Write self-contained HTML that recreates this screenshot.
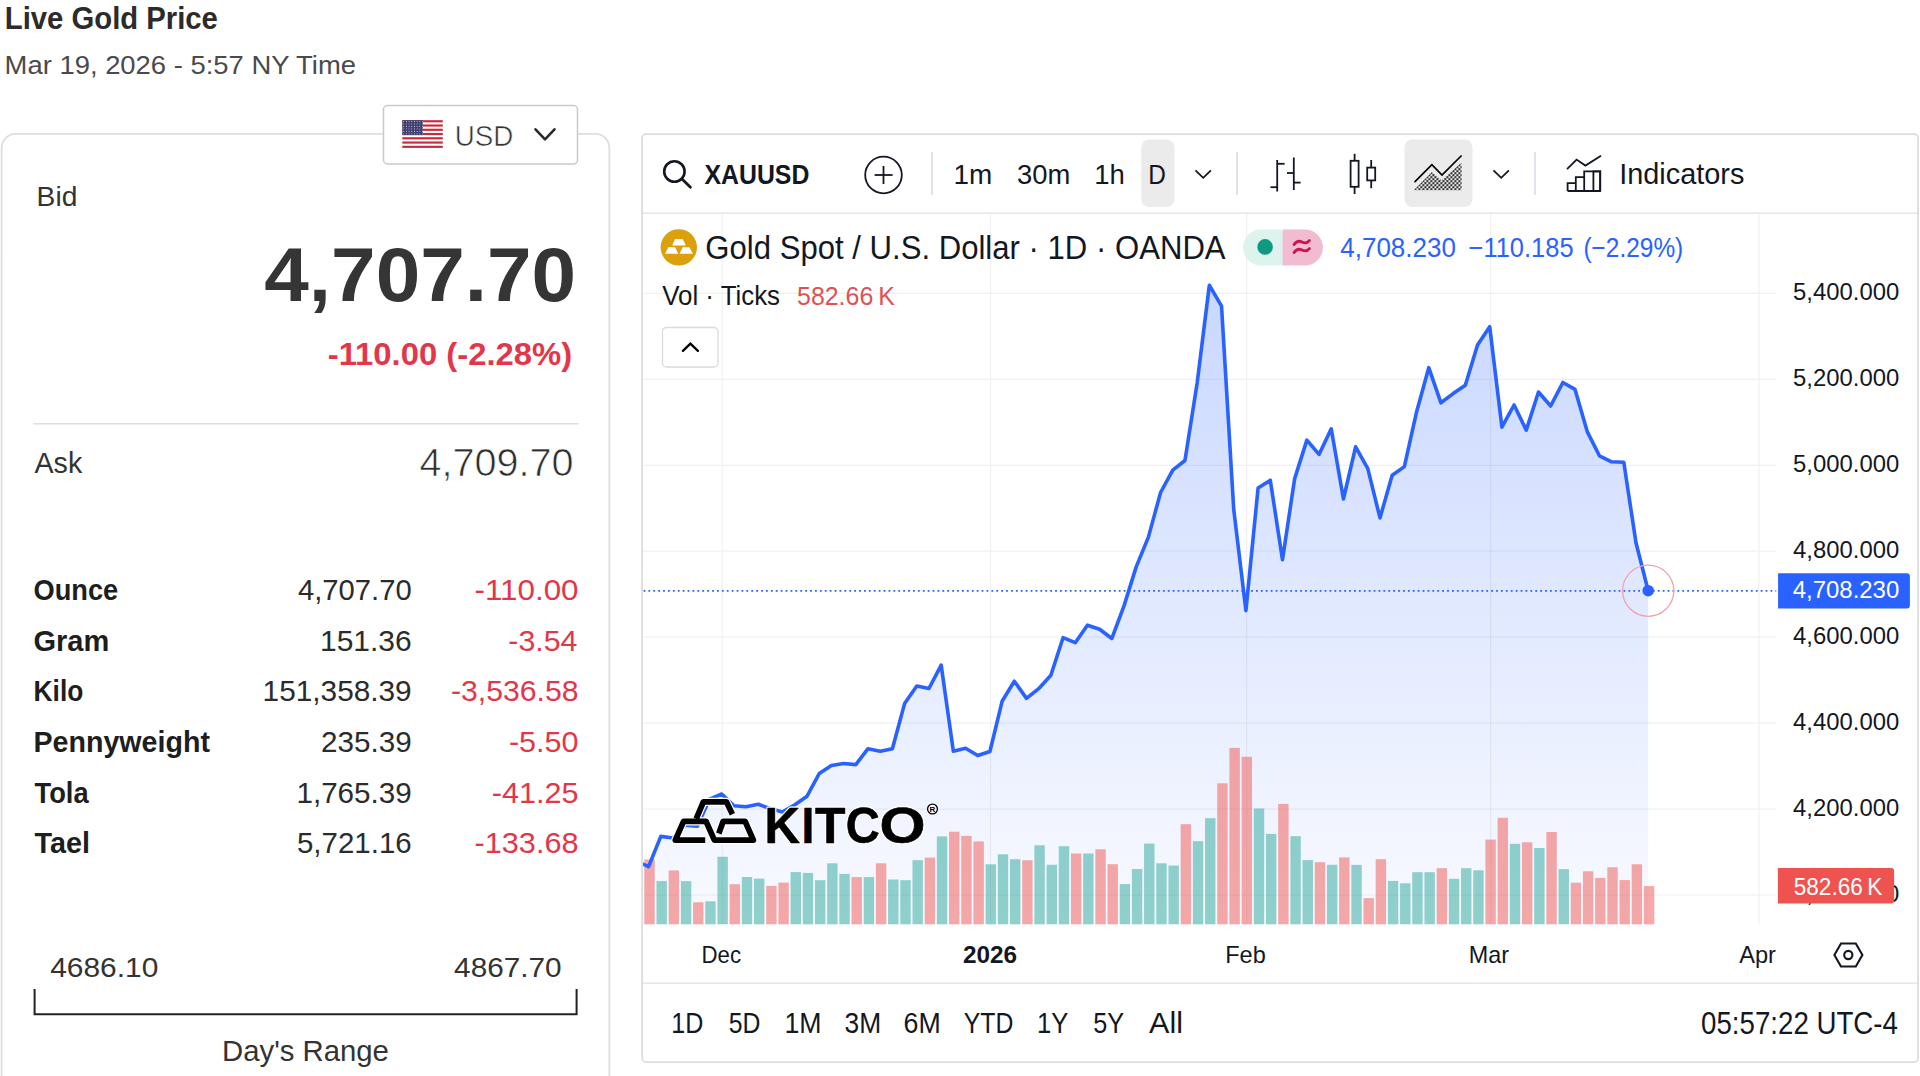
<!DOCTYPE html>
<html lang="en">
<head>
<meta charset="utf-8">
<title>Live Gold Price</title>
<style>
html,body{margin:0;padding:0;background:#fff;}
body{width:1920px;height:1076px;overflow:hidden;position:relative;font-family:"Liberation Sans",Arial,sans-serif;}
svg{position:absolute;left:0;top:0;display:block;}
</style>
</head>
<body>
<svg width="1920" height="1076" viewBox="0 0 1920 1076" font-family="'Liberation Sans', Arial, sans-serif">
<defs>
  <linearGradient id="areaGrad" gradientUnits="userSpaceOnUse" x1="0" y1="285" x2="0" y2="924.5">
    <stop offset="0" stop-color="#2962ff" stop-opacity="0.25"/>
    <stop offset="1" stop-color="#2962ff" stop-opacity="0.03"/>
  </linearGradient>
  <clipPath id="pane"><rect x="643.1" y="213.5" width="1133.4" height="711.1"/></clipPath>
  <clipPath id="paneWide"><rect x="643.1" y="213.5" width="1274" height="711.1"/></clipPath>
  <pattern id="stars" width="2.7" height="2.5" patternUnits="userSpaceOnUse" x="402.3" y="120.2">
    <circle cx="1.35" cy="1.25" r="0.55" fill="#fff"/>
  </pattern>
  <pattern id="dots" width="4" height="4" patternUnits="userSpaceOnUse" x="1415.4" y="189.2">
    <circle cx="0" cy="0" r="1.05" fill="#000"/><circle cx="4" cy="0" r="1.05" fill="#000"/><circle cx="0" cy="4" r="1.05" fill="#000"/><circle cx="4" cy="4" r="1.05" fill="#000"/><circle cx="2" cy="2" r="1.05" fill="#000"/>
  </pattern>
</defs>

<!-- ============ LEFT PANEL ============ -->
<rect x="1.6" y="133.95" width="607.8" height="1000" rx="14" ry="14" fill="#fff" stroke="#dedede" stroke-width="1.8"/>
<!-- currency dropdown -->
<rect x="383.5" y="105.5" width="194" height="58.5" rx="4" ry="4" fill="#fff" stroke="#c9c9c9" stroke-width="1.5"/>
<g>
  <rect x="402.3" y="120.2" width="40.5" height="27.7" fill="#fff"/>
  <g fill="#c8283c">
    <rect x="402.3" y="120.2" width="40.5" height="2.13"/>
    <rect x="402.3" y="124.46" width="40.5" height="2.13"/>
    <rect x="402.3" y="128.72" width="40.5" height="2.13"/>
    <rect x="402.3" y="132.98" width="40.5" height="2.13"/>
    <rect x="402.3" y="137.24" width="40.5" height="2.13"/>
    <rect x="402.3" y="141.5" width="40.5" height="2.13"/>
    <rect x="402.3" y="145.76" width="40.5" height="2.13"/>
  </g>
  <rect x="402.3" y="120.2" width="20.5" height="14.9" fill="#3c3b6e"/>
  <rect x="402.3" y="120.2" width="20.5" height="14.9" fill="url(#stars)" opacity="0.7"/>
</g>
<polyline points="535.5,129.3 545,139.3 554.5,129.3" fill="none" stroke="#2a2a2a" stroke-width="2.6" stroke-linecap="round" stroke-linejoin="round"/>
<!-- separator -->
<line x1="33.6" y1="423.75" x2="578.3" y2="423.75" stroke="#dedede" stroke-width="1.5"/>
<!-- day's range bracket -->
<path d="M34.6,988.9 V1014.3 H576.6 V988.9" fill="none" stroke="#222" stroke-width="2"/>

<!-- ============ CHART CARD ============ -->
<rect x="642.1" y="134.1" width="1276" height="928" rx="4" ry="4" fill="#fff" stroke="#dddddd" stroke-width="1.8"/>
<line x1="643" y1="213.2" x2="1917.5" y2="213.2" stroke="#e6e6e6" stroke-width="1.6"/>
<line x1="643" y1="983.3" x2="1917.5" y2="983.3" stroke="#e6e6e6" stroke-width="1.6"/>

<!-- toolbar -->
<g stroke="#e0e3eb" stroke-width="2">
  <line x1="932" y1="152" x2="932" y2="195"/>
  <line x1="1237" y1="152" x2="1237" y2="195"/>
  <line x1="1535" y1="152" x2="1535" y2="195"/>
</g>
<rect x="1141.25" y="139.5" width="33.25" height="67.5" rx="8" fill="#ebebeb"/>
<rect x="1404.5" y="139.5" width="68" height="67.5" rx="8" fill="#ebebeb"/>
<!-- search icon -->
<circle cx="674.4" cy="171.5" r="10.2" fill="none" stroke="#131722" stroke-width="2.6"/>
<line x1="682" y1="179.1" x2="690.4" y2="187.3" stroke="#131722" stroke-width="2.8" stroke-linecap="round"/>
<!-- plus circle -->
<circle cx="883.5" cy="175" r="18.3" fill="none" stroke="#131722" stroke-width="1.8"/>
<line x1="874.6" y1="175" x2="892.6" y2="175" stroke="#131722" stroke-width="1.8"/>
<line x1="883.5" y1="166" x2="883.5" y2="184" stroke="#131722" stroke-width="1.8"/>
<!-- interval chevron -->
<polyline points="1195.5,170.3 1203.2,177.8 1210.9,170.3" fill="none" stroke="#131722" stroke-width="1.8"/>
<!-- bars icon -->
<g stroke="#131722" stroke-width="1.8" fill="none">
  <line x1="1277.2" y1="160" x2="1277.2" y2="191.5"/>
  <line x1="1270.5" y1="187.2" x2="1277.2" y2="187.2"/>
  <line x1="1277.2" y1="163.8" x2="1284.6" y2="163.8"/>
  <line x1="1293.8" y1="157.5" x2="1293.8" y2="190"/>
  <line x1="1287" y1="173" x2="1293.8" y2="173"/>
  <line x1="1293.8" y1="182.6" x2="1300.6" y2="182.6"/>
</g>
<!-- candles icon -->
<g stroke="#131722" stroke-width="1.8" fill="none">
  <line x1="1354.6" y1="153.8" x2="1354.6" y2="160.8"/>
  <rect x="1350.6" y="160.8" width="8" height="26"/>
  <line x1="1354.6" y1="186.8" x2="1354.6" y2="194"/>
  <line x1="1371.2" y1="160" x2="1371.2" y2="167.6"/>
  <rect x="1367.2" y="167.6" width="8" height="12.8"/>
  <line x1="1371.2" y1="180.4" x2="1371.2" y2="188.2"/>
</g>
<!-- area icon -->
<path d="M1414.4,190.3 L1414.4,189.4 L1431.9,172 L1441.6,180.3 L1460.5,163.6 L1461.6,163.6 L1461.6,190.3 Z" fill="url(#dots)"/>
<polyline points="1415,181.6 1431.9,164.6 1442,175.1 1461.1,156" fill="none" stroke="#000" stroke-width="1.7" stroke-linecap="round"/>
<polyline points="1493.5,170.3 1501.2,177.8 1508.9,170.3" fill="none" stroke="#131722" stroke-width="1.8"/>
<!-- indicators icon -->
<g stroke="#131722" stroke-width="1.8" fill="none">
  <polyline points="1567,169.2 1576.6,159.6 1585.4,165.6 1601,155.8"/>
  <path d="M1567.6,191 V183.2 H1575.8 V191 M1575.8,191 V177.2 H1584.2 V191 M1584.2,191 V171.4 H1600.2 V191 M1567.6,191 H1600.2"/>
  <rect x="1593.4" y="171.4" width="6.8" height="19.6"/>
</g>

<!-- ============ CHART PANE ============ -->
<g stroke="#f0f0f0" stroke-width="1.2" clip-path="url(#paneWide)">
  <line x1="643" y1="293.4" x2="1776" y2="293.4"/><line x1="643" y1="379.3" x2="1776" y2="379.3"/><line x1="643" y1="465.3" x2="1776" y2="465.3"/><line x1="643" y1="551.2" x2="1776" y2="551.2"/><line x1="643" y1="637.2" x2="1776" y2="637.2"/><line x1="643" y1="723.1" x2="1776" y2="723.1"/><line x1="643" y1="809.1" x2="1776" y2="809.1"/><line x1="643" y1="895.0" x2="1776" y2="895.0"/>
  <line x1="722.2" y1="213.5" x2="722.2" y2="924.6"/><line x1="990.5" y1="213.5" x2="990.5" y2="924.6"/><line x1="1246.6" y1="213.5" x2="1246.6" y2="924.6"/><line x1="1490.6" y1="213.5" x2="1490.6" y2="924.6"/><line x1="1758.9" y1="213.5" x2="1758.9" y2="924.6"/>
</g>
<g clip-path="url(#pane)">
  <path d="M636.41,924.6 L636.41,861.2 L648.60,866.6 L660.79,836.4 L672.98,838.0 L685.17,825.2 L697.36,826.2 L709.55,799.1 L721.74,794.0 L733.93,805.8 L746.12,806.8 L758.31,804.2 L770.50,808.8 L782.69,811.9 L794.88,804.8 L807.07,796.2 L819.26,773.5 L831.45,765.5 L843.64,763.5 L855.83,764.6 L868.02,748.7 L880.21,751.2 L892.40,748.7 L904.59,703.6 L916.78,686.0 L928.97,688.5 L941.16,665.1 L953.35,751.2 L965.54,748.2 L977.73,755.5 L989.92,751.5 L1002.11,701.3 L1014.30,681.2 L1026.49,698.4 L1038.68,688.7 L1050.87,675.3 L1063.06,637.7 L1075.25,642.7 L1087.44,625.2 L1099.63,629.3 L1111.82,638.5 L1124.01,605.9 L1136.20,566.9 L1148.39,537.1 L1160.58,492.5 L1172.77,470.1 L1184.96,460.5 L1197.15,383.0 L1209.34,285.2 L1221.53,306.1 L1233.72,509.3 L1245.91,610.6 L1258.10,487.9 L1270.29,480.2 L1282.48,559.8 L1294.67,478.6 L1306.86,440.1 L1319.05,454.4 L1331.24,428.8 L1343.43,499.0 L1355.62,446.8 L1367.81,468.6 L1380.00,517.9 L1392.19,475.3 L1404.38,466.6 L1416.57,411.9 L1428.76,367.7 L1440.95,402.8 L1453.14,393.6 L1465.33,385.3 L1477.52,345.1 L1489.71,326.7 L1501.90,427.1 L1514.09,405.0 L1526.28,430.1 L1538.47,392.0 L1550.66,406.0 L1562.85,382.5 L1575.04,389.4 L1587.23,431.6 L1599.42,455.8 L1611.61,461.8 L1623.80,462.3 L1635.99,542.8 L1648.18,590.7 L1648.18,924.6 Z" fill="url(#areaGrad)"/>
  <g fill="rgba(239,83,80,0.5)"><rect x="644.30" y="859.4" width="10.4" height="65.2"/><rect x="668.68" y="870.4" width="10.4" height="54.2"/><rect x="693.06" y="902.3" width="10.4" height="22.3"/><rect x="729.63" y="884.2" width="10.4" height="40.4"/><rect x="766.20" y="885.9" width="10.4" height="38.7"/><rect x="778.39" y="882.6" width="10.4" height="42.0"/><rect x="851.53" y="877.1" width="10.4" height="47.5"/><rect x="875.91" y="863.3" width="10.4" height="61.3"/><rect x="924.67" y="857.6" width="10.4" height="67.0"/><rect x="949.05" y="831.7" width="10.4" height="92.9"/><rect x="961.24" y="835.9" width="10.4" height="88.7"/><rect x="973.43" y="841.4" width="10.4" height="83.2"/><rect x="1022.19" y="860.3" width="10.4" height="64.3"/><rect x="1070.95" y="853.5" width="10.4" height="71.1"/><rect x="1095.33" y="849.3" width="10.4" height="75.3"/><rect x="1107.52" y="864.2" width="10.4" height="60.4"/><rect x="1180.66" y="824.2" width="10.4" height="100.4"/><rect x="1217.23" y="783.3" width="10.4" height="141.3"/><rect x="1229.42" y="747.9" width="10.4" height="176.7"/><rect x="1241.61" y="756.8" width="10.4" height="167.8"/><rect x="1278.18" y="803.9" width="10.4" height="120.7"/><rect x="1314.75" y="862.2" width="10.4" height="62.4"/><rect x="1339.13" y="857.4" width="10.4" height="67.2"/><rect x="1363.51" y="898.1" width="10.4" height="26.5"/><rect x="1375.70" y="859.2" width="10.4" height="65.4"/><rect x="1436.65" y="868.2" width="10.4" height="56.4"/><rect x="1485.41" y="839.6" width="10.4" height="85.0"/><rect x="1497.60" y="817.8" width="10.4" height="106.8"/><rect x="1521.98" y="842.3" width="10.4" height="82.3"/><rect x="1546.36" y="832.0" width="10.4" height="92.6"/><rect x="1570.74" y="882.7" width="10.4" height="41.9"/><rect x="1582.93" y="871.3" width="10.4" height="53.3"/><rect x="1595.12" y="877.9" width="10.4" height="46.7"/><rect x="1607.31" y="867.3" width="10.4" height="57.3"/><rect x="1619.50" y="880.1" width="10.4" height="44.5"/><rect x="1631.69" y="864.3" width="10.4" height="60.3"/><rect x="1643.88" y="886.1" width="10.4" height="38.5"/></g>
  <g fill="rgba(38,166,154,0.5)"><rect x="656.49" y="881.1" width="10.4" height="43.5"/><rect x="680.87" y="881.1" width="10.4" height="43.5"/><rect x="705.25" y="901.3" width="10.4" height="23.3"/><rect x="717.44" y="856.8" width="10.4" height="67.8"/><rect x="741.82" y="877.0" width="10.4" height="47.6"/><rect x="754.01" y="878.6" width="10.4" height="46.0"/><rect x="790.58" y="872.1" width="10.4" height="52.5"/><rect x="802.77" y="872.9" width="10.4" height="51.7"/><rect x="814.96" y="880.2" width="10.4" height="44.4"/><rect x="827.15" y="863.3" width="10.4" height="61.3"/><rect x="839.34" y="873.9" width="10.4" height="50.7"/><rect x="863.72" y="877.1" width="10.4" height="47.5"/><rect x="888.10" y="879.5" width="10.4" height="45.1"/><rect x="900.29" y="880.2" width="10.4" height="44.4"/><rect x="912.48" y="860.2" width="10.4" height="64.4"/><rect x="936.86" y="836.4" width="10.4" height="88.2"/><rect x="985.62" y="864.3" width="10.4" height="60.3"/><rect x="997.81" y="854.3" width="10.4" height="70.3"/><rect x="1010.00" y="859.2" width="10.4" height="65.4"/><rect x="1034.38" y="845.3" width="10.4" height="79.3"/><rect x="1046.57" y="864.8" width="10.4" height="59.8"/><rect x="1058.76" y="846.2" width="10.4" height="78.4"/><rect x="1083.14" y="853.5" width="10.4" height="71.1"/><rect x="1119.71" y="884.1" width="10.4" height="40.5"/><rect x="1131.90" y="869.0" width="10.4" height="55.6"/><rect x="1144.09" y="843.6" width="10.4" height="81.0"/><rect x="1156.28" y="863.3" width="10.4" height="61.3"/><rect x="1168.47" y="865.5" width="10.4" height="59.1"/><rect x="1192.85" y="841.2" width="10.4" height="83.4"/><rect x="1205.04" y="818.2" width="10.4" height="106.4"/><rect x="1253.80" y="808.5" width="10.4" height="116.1"/><rect x="1265.99" y="833.9" width="10.4" height="90.7"/><rect x="1290.37" y="836.2" width="10.4" height="88.4"/><rect x="1302.56" y="860.1" width="10.4" height="64.5"/><rect x="1326.94" y="864.8" width="10.4" height="59.8"/><rect x="1351.32" y="864.9" width="10.4" height="59.7"/><rect x="1387.89" y="880.9" width="10.4" height="43.7"/><rect x="1400.08" y="883.3" width="10.4" height="41.3"/><rect x="1412.27" y="872.2" width="10.4" height="52.4"/><rect x="1424.46" y="872.2" width="10.4" height="52.4"/><rect x="1448.84" y="878.8" width="10.4" height="45.8"/><rect x="1461.03" y="868.2" width="10.4" height="56.4"/><rect x="1473.22" y="870.3" width="10.4" height="54.3"/><rect x="1509.79" y="843.8" width="10.4" height="80.8"/><rect x="1534.17" y="848.0" width="10.4" height="76.6"/><rect x="1558.55" y="869.1" width="10.4" height="55.5"/></g>
  <line x1="643.5" y1="590.9" x2="1776.5" y2="590.9" stroke="#2962ff" stroke-width="1.7" stroke-dasharray="1.8 3.1"/>
  <polyline points="636.41,861.2 648.60,866.6 660.79,836.4 672.98,838.0 685.17,825.2 697.36,826.2 709.55,799.1 721.74,794.0 733.93,805.8 746.12,806.8 758.31,804.2 770.50,808.8 782.69,811.9 794.88,804.8 807.07,796.2 819.26,773.5 831.45,765.5 843.64,763.5 855.83,764.6 868.02,748.7 880.21,751.2 892.40,748.7 904.59,703.6 916.78,686.0 928.97,688.5 941.16,665.1 953.35,751.2 965.54,748.2 977.73,755.5 989.92,751.5 1002.11,701.3 1014.30,681.2 1026.49,698.4 1038.68,688.7 1050.87,675.3 1063.06,637.7 1075.25,642.7 1087.44,625.2 1099.63,629.3 1111.82,638.5 1124.01,605.9 1136.20,566.9 1148.39,537.1 1160.58,492.5 1172.77,470.1 1184.96,460.5 1197.15,383.0 1209.34,285.2 1221.53,306.1 1233.72,509.3 1245.91,610.6 1258.10,487.9 1270.29,480.2 1282.48,559.8 1294.67,478.6 1306.86,440.1 1319.05,454.4 1331.24,428.8 1343.43,499.0 1355.62,446.8 1367.81,468.6 1380.00,517.9 1392.19,475.3 1404.38,466.6 1416.57,411.9 1428.76,367.7 1440.95,402.8 1453.14,393.6 1465.33,385.3 1477.52,345.1 1489.71,326.7 1501.90,427.1 1514.09,405.0 1526.28,430.1 1538.47,392.0 1550.66,406.0 1562.85,382.5 1575.04,389.4 1587.23,431.6 1599.42,455.8 1611.61,461.8 1623.80,462.3 1635.99,542.8 1648.18,590.7" fill="none" stroke="#2962ff" stroke-width="3.6" stroke-linejoin="round" stroke-linecap="round"/>
  <circle cx="1648.2" cy="590.7" r="25.6" fill="none" stroke="#f2a1aa" stroke-width="1.3"/>
  <circle cx="1648.2" cy="590.7" r="5.8" fill="#2962ff"/>
  <!-- KITCO watermark -->
  <g fill="none" stroke-linejoin="round">
    <g stroke="#fff" stroke-width="8.2">
      <polyline points="705.2,840.1 675.3,840.1 683.6,821.3 706,821.3 714.4,840.1 753.4,840.1 745.1,821.3 723.2,821.3 718.8,833.5"/>
      <polyline points="696.2,818.8 703.4,801.8 726.4,801.8 732.4,814.3"/>
    </g>
    <g stroke="#000" stroke-width="5.8">
      <polyline points="705.2,840.1 675.3,840.1 683.6,821.3 706,821.3 714.4,840.1 753.4,840.1 745.1,821.3 723.2,821.3 718.8,833.5"/>
      <polyline points="696.2,818.8 703.4,801.8 726.4,801.8 732.4,814.3"/>
    </g>
  </g>
  <g font-size="49.5" font-weight="700" fill="#fff" stroke="#fff" stroke-width="3" stroke-linejoin="round">
    <text x="764.5" y="843.2" textLength="35.5" lengthAdjust="spacingAndGlyphs">K</text>
    <text x="801.6" y="843.2" textLength="12.8" lengthAdjust="spacingAndGlyphs">I</text>
    <text x="815.0" y="843.2" textLength="30.5" lengthAdjust="spacingAndGlyphs">T</text>
    <text x="845.8" y="843.2" textLength="34" lengthAdjust="spacingAndGlyphs">C</text>
    <text x="879.6" y="843.2" textLength="46" lengthAdjust="spacingAndGlyphs">O</text>
  </g>
  <g font-size="49.5" font-weight="700" fill="#000" stroke="#000" stroke-width="0.6" stroke-linejoin="round">
    <text x="764.5" y="843.2" textLength="35.5" lengthAdjust="spacingAndGlyphs">K</text>
    <text x="801.6" y="843.2" textLength="12.8" lengthAdjust="spacingAndGlyphs">I</text>
    <text x="815.0" y="843.2" textLength="30.5" lengthAdjust="spacingAndGlyphs">T</text>
    <text x="845.8" y="843.2" textLength="34" lengthAdjust="spacingAndGlyphs">C</text>
    <text x="879.6" y="843.2" textLength="46" lengthAdjust="spacingAndGlyphs">O</text>
  </g>
  <circle cx="932.5" cy="809" r="4.9" fill="#fff" stroke="#000" stroke-width="1.3"/>
  <text x="932.5" y="812" font-size="8" font-weight="700" text-anchor="middle" fill="#000">R</text>
</g>

<!-- legend -->
<circle cx="678.8" cy="247.4" r="18.2" fill="#dba00c"/>
<g fill="#fff">
  <polygon points="675.1,238.9 682.7,238.9 685.8,245.6 672.2,245.6"/>
  <polygon points="668.4,247.2 675.1,247.2 678.2,253.8 665,253.8"/>
  <polygon points="682.7,247.2 689.3,247.2 692.9,253.8 679.5,253.8"/>
</g>
<path d="M1261.1,229.4 H1282.5 V265.6 H1261.1 A18.1,18.1 0 0 1 1261.1,229.4 Z" fill="#def2ee"/>
<path d="M1282.5,229.4 H1304.8 A18.1,18.1 0 0 1 1304.8,265.6 H1282.5 Z" fill="#f2bcd0"/>
<circle cx="1265.1" cy="246.9" r="7.8" fill="#0f9a80"/>
<g fill="none" stroke="#cc1450" stroke-width="2.8" stroke-linecap="round">
  <path d="M1294,244.6 C1296.5,241 1299.5,240.6 1302,242 S1307,243.5 1309.4,240.6"/>
  <path d="M1294,252.6 C1296.5,249 1299.5,248.6 1302,250 S1307,251.5 1309.4,248.6"/>
</g>
<!-- collapse button -->
<rect x="662.5" y="327.5" width="55.5" height="39.5" rx="4" fill="#fff" stroke="#dadada" stroke-width="1.3"/>
<polyline points="682.9,350.9 690.4,343.7 697.9,350.9" fill="none" stroke="#000" stroke-width="2.3" stroke-linecap="round"/>

<text x="1793.10" y="300.40" textLength="106.12" lengthAdjust="spacingAndGlyphs" font-size="23.6" fill="#131722">5,400.000</text>
<text x="1793.10" y="386.35" textLength="106.12" lengthAdjust="spacingAndGlyphs" font-size="23.6" fill="#131722">5,200.000</text>
<text x="1793.10" y="472.30" textLength="106.12" lengthAdjust="spacingAndGlyphs" font-size="23.6" fill="#131722">5,000.000</text>
<text x="1793.10" y="558.25" textLength="106.12" lengthAdjust="spacingAndGlyphs" font-size="23.6" fill="#131722">4,800.000</text>
<text x="1793.10" y="644.20" textLength="106.12" lengthAdjust="spacingAndGlyphs" font-size="23.6" fill="#131722">4,600.000</text>
<text x="1793.10" y="730.15" textLength="106.12" lengthAdjust="spacingAndGlyphs" font-size="23.6" fill="#131722">4,400.000</text>
<text x="1793.10" y="816.10" textLength="106.12" lengthAdjust="spacingAndGlyphs" font-size="23.6" fill="#131722">4,200.000</text>
<text x="1793.10" y="902.05" textLength="106.12" lengthAdjust="spacingAndGlyphs" font-size="23.6" fill="#131722">4,000.000</text>
<!-- price tags -->
<path d="M1778.1,573.3 H1906.9 A3,3 0 0 1 1909.9,576.3 V605.5 A3,3 0 0 1 1906.9,608.5 H1778.1 Z" fill="#2962ff"/>
<path d="M1777.9,868.1 H1891.1 A3,3 0 0 1 1894.1,871.1 V900.4 A3,3 0 0 1 1891.1,903.4 H1777.9 Z" fill="#ef5350"/>

<!-- settings hexagon -->
<polygon points="1834.4,955 1841,943.5 1855.8,943.5 1862.4,955 1855.8,966.5 1841,966.5" fill="none" stroke="#131722" stroke-width="2.1"/>
<circle cx="1848.3" cy="955" r="4.1" fill="none" stroke="#131722" stroke-width="2.1"/>

<text x="4.81" y="29.20" textLength="213.12" lengthAdjust="spacingAndGlyphs" font-size="31" font-weight="700" fill="#2b2b2b">Live Gold Price</text>
<text x="4.64" y="74.00" textLength="351.32" lengthAdjust="spacingAndGlyphs" font-size="26.5" fill="#4a4a4a">Mar 19, 2026 - 5:57 NY Time</text>
<text x="454.67" y="145.90" textLength="58.59" lengthAdjust="spacingAndGlyphs" font-size="30.4" fill="#333" stroke="#fff" stroke-width="0.6">USD</text>
<text x="36.63" y="205.50" textLength="40.79" lengthAdjust="spacingAndGlyphs" font-size="27.3" fill="#333">Bid</text>
<text x="264.34" y="300.90" textLength="311.73" lengthAdjust="spacingAndGlyphs" font-size="75.8" font-weight="700" fill="#353535">4,707.70</text>
<text x="327.72" y="365.40" textLength="244.52" lengthAdjust="spacingAndGlyphs" font-size="30.5" font-weight="700" fill="#e2374a">-110.00 (-2.28%)</text>
<text x="34.50" y="472.50" textLength="47.70" lengthAdjust="spacingAndGlyphs" font-size="29.4" fill="#333">Ask</text>
<text x="419.40" y="475.80" textLength="154.20" lengthAdjust="spacingAndGlyphs" font-size="39.0" fill="#2e2e2e" stroke="#fff" stroke-width="0.7">4,709.70</text>
<text x="33.56" y="599.70" textLength="84.71" lengthAdjust="spacingAndGlyphs" font-size="28.9" font-weight="700" fill="#1e1e1e">Ounce</text>
<text x="298.00" y="599.70" textLength="113.68" lengthAdjust="spacingAndGlyphs" font-size="28.9" fill="#2b2b2b">4,707.70</text>
<text x="474.51" y="599.70" textLength="104.04" lengthAdjust="spacingAndGlyphs" font-size="28.9" fill="#e2374a">-110.00</text>
<text x="33.50" y="650.80" textLength="75.80" lengthAdjust="spacingAndGlyphs" font-size="28.9" font-weight="700" fill="#1e1e1e">Gram</text>
<text x="320.02" y="650.80" textLength="91.68" lengthAdjust="spacingAndGlyphs" font-size="28.9" fill="#2b2b2b">151.36</text>
<text x="508.35" y="650.80" textLength="69.12" lengthAdjust="spacingAndGlyphs" font-size="28.9" fill="#e2374a">-3.54</text>
<text x="33.59" y="701.00" textLength="49.80" lengthAdjust="spacingAndGlyphs" font-size="28.9" font-weight="700" fill="#1e1e1e">Kilo</text>
<text x="262.64" y="701.00" textLength="149.06" lengthAdjust="spacingAndGlyphs" font-size="28.9" fill="#2b2b2b">151,358.39</text>
<text x="450.96" y="701.00" textLength="127.56" lengthAdjust="spacingAndGlyphs" font-size="28.9" fill="#e2374a">-3,536.58</text>
<text x="33.51" y="752.00" textLength="176.41" lengthAdjust="spacingAndGlyphs" font-size="28.9" font-weight="700" fill="#1e1e1e">Pennyweight</text>
<text x="321.07" y="752.00" textLength="90.62" lengthAdjust="spacingAndGlyphs" font-size="28.9" fill="#2b2b2b">235.39</text>
<text x="508.94" y="752.00" textLength="69.58" lengthAdjust="spacingAndGlyphs" font-size="28.9" fill="#e2374a">-5.50</text>
<text x="34.50" y="802.80" textLength="54.12" lengthAdjust="spacingAndGlyphs" font-size="28.9" font-weight="700" fill="#1e1e1e">Tola</text>
<text x="296.45" y="802.80" textLength="115.24" lengthAdjust="spacingAndGlyphs" font-size="28.9" fill="#2b2b2b">1,765.39</text>
<text x="491.74" y="802.80" textLength="86.79" lengthAdjust="spacingAndGlyphs" font-size="28.9" fill="#e2374a">-41.25</text>
<text x="34.50" y="853.20" textLength="55.52" lengthAdjust="spacingAndGlyphs" font-size="28.9" font-weight="700" fill="#1e1e1e">Tael</text>
<text x="296.98" y="853.20" textLength="114.71" lengthAdjust="spacingAndGlyphs" font-size="28.9" fill="#2b2b2b">5,721.16</text>
<text x="474.54" y="853.20" textLength="103.99" lengthAdjust="spacingAndGlyphs" font-size="28.9" fill="#e2374a">-133.68</text>
<text x="50.20" y="977.40" textLength="108.19" lengthAdjust="spacingAndGlyphs" font-size="28.5" fill="#333">4686.10</text>
<text x="454.10" y="977.40" textLength="107.59" lengthAdjust="spacingAndGlyphs" font-size="28.5" fill="#333">4867.70</text>
<text x="222.00" y="1060.50" textLength="166.94" lengthAdjust="spacingAndGlyphs" font-size="29.4" fill="#333">Day's Range</text>
<text x="704.50" y="183.75" textLength="104.88" lengthAdjust="spacingAndGlyphs" font-size="28.3" font-weight="700" fill="#131722">XAUUSD</text>
<text x="953.53" y="183.75" textLength="38.77" lengthAdjust="spacingAndGlyphs" font-size="28.3" fill="#131722">1m</text>
<text x="1017.03" y="183.75" textLength="53.24" lengthAdjust="spacingAndGlyphs" font-size="28.3" fill="#131722">30m</text>
<text x="1094.30" y="183.75" textLength="30.64" lengthAdjust="spacingAndGlyphs" font-size="28.3" fill="#131722">1h</text>
<text x="1148.28" y="183.75" textLength="17.60" lengthAdjust="spacingAndGlyphs" font-size="28.3" fill="#131722">D</text>
<text x="1619.19" y="183.50" textLength="125.21" lengthAdjust="spacingAndGlyphs" font-size="28.8" fill="#131722">Indicators</text>
<text x="705.29" y="258.80" textLength="520.33" lengthAdjust="spacingAndGlyphs" font-size="32.4" fill="#131722">Gold Spot / U.S. Dollar · 1D · OANDA</text>
<text x="662.20" y="304.75" textLength="117.81" lengthAdjust="spacingAndGlyphs" font-size="27.3" fill="#131722">Vol · Ticks</text>
<text x="797.03" y="304.75" textLength="97.87" lengthAdjust="spacingAndGlyphs" font-size="25.8" fill="#e05252">582.66 K</text>
<text x="1340.30" y="256.60" textLength="115.57" lengthAdjust="spacingAndGlyphs" font-size="27.3" fill="#2962ff">4,708.230</text>
<text x="1468.57" y="256.60" textLength="105.00" lengthAdjust="spacingAndGlyphs" font-size="27.3" fill="#2962ff">−110.185</text>
<text x="1583.40" y="256.60" textLength="99.87" lengthAdjust="spacingAndGlyphs" font-size="27.3" fill="#2962ff">(−2.29%)</text>
<text x="1792.70" y="598.00" textLength="106.58" lengthAdjust="spacingAndGlyphs" font-size="23.7" fill="#ffffff">4,708.230</text>
<text x="1793.70" y="894.60" textLength="88.71" lengthAdjust="spacingAndGlyphs" font-size="24.7" fill="#ffffff">582.66 K</text>
<text x="701.56" y="962.60" textLength="39.50" lengthAdjust="spacingAndGlyphs" font-size="23.6" fill="#131722">Dec</text>
<text x="963.00" y="962.60" textLength="54.13" lengthAdjust="spacingAndGlyphs" font-size="23.6" font-weight="700" fill="#131722">2026</text>
<text x="1225.20" y="962.60" textLength="40.52" lengthAdjust="spacingAndGlyphs" font-size="23.6" fill="#131722">Feb</text>
<text x="1468.81" y="962.60" textLength="40.25" lengthAdjust="spacingAndGlyphs" font-size="23.6" fill="#131722">Mar</text>
<text x="1739.20" y="962.80" textLength="36.76" lengthAdjust="spacingAndGlyphs" font-size="23.6" fill="#131722">Apr</text>
<text x="671.27" y="1032.60" textLength="32.04" lengthAdjust="spacingAndGlyphs" font-size="29.0" fill="#131722">1D</text>
<text x="728.65" y="1032.60" textLength="31.66" lengthAdjust="spacingAndGlyphs" font-size="29.0" fill="#131722">5D</text>
<text x="784.41" y="1032.60" textLength="37.08" lengthAdjust="spacingAndGlyphs" font-size="29.0" fill="#131722">1M</text>
<text x="844.59" y="1032.60" textLength="36.62" lengthAdjust="spacingAndGlyphs" font-size="29.0" fill="#131722">3M</text>
<text x="903.58" y="1032.60" textLength="37.16" lengthAdjust="spacingAndGlyphs" font-size="29.0" fill="#131722">6M</text>
<text x="963.75" y="1032.60" textLength="49.56" lengthAdjust="spacingAndGlyphs" font-size="29.0" fill="#131722">YTD</text>
<text x="1036.98" y="1032.60" textLength="31.32" lengthAdjust="spacingAndGlyphs" font-size="29.0" fill="#131722">1Y</text>
<text x="1093.13" y="1032.60" textLength="30.87" lengthAdjust="spacingAndGlyphs" font-size="29.0" fill="#131722">5Y</text>
<text x="1149.10" y="1032.60" textLength="33.92" lengthAdjust="spacingAndGlyphs" font-size="29.0" fill="#131722">All</text>
<text x="1701.09" y="1033.70" textLength="196.87" lengthAdjust="spacingAndGlyphs" font-size="30.5" fill="#131722">05:57:22 UTC-4</text>
</svg>
</body>
</html>
